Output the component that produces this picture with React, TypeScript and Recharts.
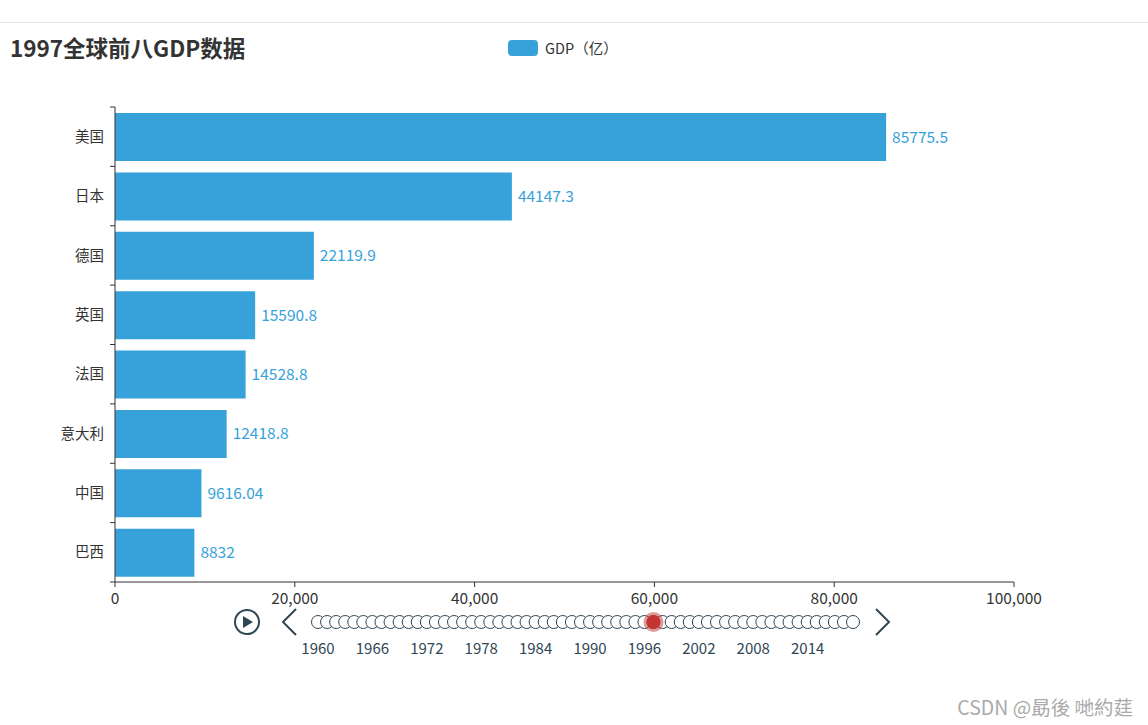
import { BarChart, Bar, XAxis, YAxis, LabelList, LineChart, Line } from "recharts";

const countries = ["美国", "日本", "德国", "英国", "法国", "意大利", "中国", "巴西"];
const gdp = [85775.5, 44147.3, 22119.9, 15590.8, 14528.8, 12418.8, 9616.04, 8832];
const valueTicks = [0, 20000, 40000, 60000, 80000, 100000];

const years = [
  1960, 1961, 1962, 1963, 1964, 1965, 1966, 1967, 1968, 1969,
  1970, 1971, 1972, 1973, 1974, 1975, 1976, 1977, 1978, 1979,
  1980, 1981, 1982, 1983, 1984, 1985, 1986, 1987, 1988, 1989,
  1990, 1991, 1992, 1993, 1994, 1995, 1996, 1997, 1998, 1999,
  2000, 2001, 2002, 2003, 2004, 2005, 2006, 2007, 2008, 2009,
  2010, 2011, 2012, 2013, 2014, 2015, 2016, 2017, 2018, 2019,
];
const yearTicks = [1960, 1966, 1972, 1978, 1984, 1990, 1996, 2002, 2008, 2014];
const currentYear = 1997;

const FONT = "'Noto Sans CJK SC', 'Microsoft YaHei', sans-serif";
const BAR = "#37a2da";
const AXIS = "#333";
const TL = "#304654";

const PLOT_TOP = 107;
const PLOT_BOTTOM = 582;
const BAND = (PLOT_BOTTOM - PLOT_TOP) / countries.length;

const data = countries.map((name, i) => ({ name, gdp: gdp[i] }));
const tlData = years.map((y) => ({ year: y, v: 0.5, sel: y === currentYear ? 0.5 : null }));

function CatTick(props: any) {
  const { x, y, payload, index } = props;
  const last = index === countries.length - 1;
  return (
    <g>
      <text x={x - 11} y={y} dy="0.35em" textAnchor="end" fill={AXIS} fontSize={14.5} fontFamily={FONT}>
        {payload.value}
      </text>
      <line x1={x - 5} x2={x} y1={y - BAND / 2} y2={y - BAND / 2} stroke={AXIS} />
      {last && <line x1={x - 5} x2={x} y1={y + BAND / 2} y2={y + BAND / 2} stroke={AXIS} />}
    </g>
  );
}

function TlDot(props: any) {
  const { cx, cy, index } = props;
  return <circle key={index} cx={cx} cy={cy} r={6.5} fill="#fff" stroke={TL} strokeWidth={1} />;
}

function SelDot(props: any) {
  const { cx, cy, index, payload } = props;
  if (payload.sel == null) return <g key={index} />;
  return (
    <g key={index}>
      <circle cx={cx} cy={cy} r={10} fill="rgba(194,53,49,0.5)" />
      <circle cx={cx} cy={cy} r={7} fill="#c23531" />
    </g>
  );
}

export default function App() {
  return (
    <div style={{ position: "absolute", left: 0, top: 0, width: 1148, height: 725, background: "#fff", fontFamily: FONT, overflow: "hidden" }}>
      <div style={{ position: "absolute", left: 0, top: 22, width: 1148, height: 1, background: "#e3e3e3" }} />
      <div style={{ position: "absolute", left: 10, top: 31, fontSize: 22.5, fontWeight: 700, color: "#333", fontFamily: FONT }}>
        1997全球前八GDP数据
      </div>
      <div style={{ position: "absolute", left: 508, top: 37, display: "flex", alignItems: "center", fontFamily: FONT, fontSize: 14.5, color: "#333" }}>
        <span style={{ width: 30, height: 16, borderRadius: 4, background: BAR, display: "inline-block", marginRight: 7 }} />
        GDP（亿）
      </div>

      <div style={{ position: "absolute", left: 0, top: 0 }}>
        <BarChart
          width={1148}
          height={725}
          data={data}
          layout="vertical"
          margin={{ top: PLOT_TOP, right: 134, bottom: 725 - PLOT_BOTTOM - 30, left: 0 }}
        >
          <XAxis
            type="number"
            domain={[0, 100000]}
            ticks={valueTicks}
            height={30}
            tickSize={5}
            tickMargin={6}
            stroke={AXIS}
            tick={{ fill: AXIS, fontSize: 15.5, fontFamily: FONT }}
            tickFormatter={(v: number) => v.toLocaleString("en-US")}
          />
          <YAxis
            type="category"
            dataKey="name"
            width={115}
            tickLine={false}
            tickSize={0}
            tickMargin={0}
            stroke={AXIS}
            interval={0}
            tick={<CatTick />}
          />
          <Bar dataKey="gdp" name="GDP（亿）" fill={BAR} barSize={48} isAnimationActive={false}>
            <LabelList dataKey="gdp" position="right" offset={6} fill={BAR} fontSize={15.5} fontFamily={FONT} />
          </Bar>
        </BarChart>
      </div>

      <div style={{ position: "absolute", left: 0, top: 605 }}>
        <LineChart width={1148} height={64} data={tlData} margin={{ top: 0, right: 1148 - 853, bottom: 0, left: 318 }}>
          <XAxis
            type="number"
            dataKey="year"
            domain={[1960, 2019]}
            ticks={yearTicks}
            height={30}
            axisLine={false}
            tickLine={false}
            tickSize={0}
            tickMargin={4}
            tick={{ fill: TL, fontSize: 15, fontFamily: FONT }}
          />
          <YAxis hide domain={[0, 1]} />
          <Line dataKey="v" stroke="none" dot={<TlDot />} isAnimationActive={false} />
          <Line dataKey="sel" stroke="none" dot={<SelDot />} activeDot={false} isAnimationActive={false} />
        </LineChart>
      </div>

      <svg style={{ position: "absolute", left: 0, top: 0, pointerEvents: "none" }} width={1148} height={725}>
        <circle cx={247} cy={622} r={12} fill="none" stroke={TL} strokeWidth={2} />
        <path d="M243 616 L253 622 L243 628 Z" fill={TL} />
        <polyline points="296,609 283,622 296,635" fill="none" stroke={TL} strokeWidth={2} />
        <polyline points="876,609 889,622 876,635" fill="none" stroke={TL} strokeWidth={2} />
      </svg>

      <div style={{ position: "absolute", right: 15, top: 692, fontSize: 19.5, color: "#aaa", fontFamily: FONT }}>
        CSDN @勗後 哋約莛
      </div>
    </div>
  );
}
